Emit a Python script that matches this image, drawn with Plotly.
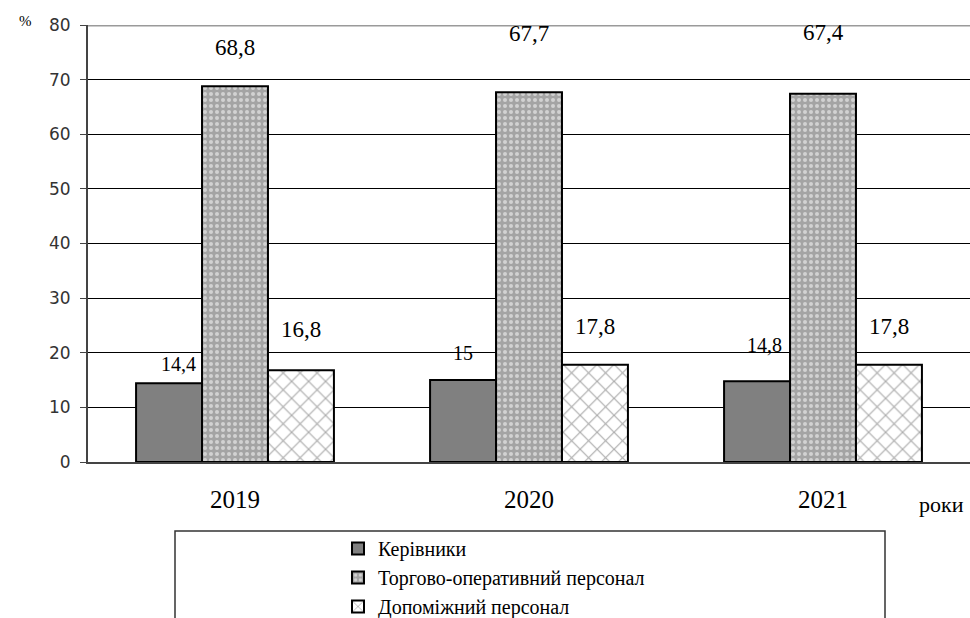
import plotly.graph_objects as go

# Staff structure by category, %
years = ["2019", "2020", "2021"]
kerivnyky = [14.4, 15.0, 14.8]
torhovo = [68.8, 67.7, 67.4]
dopomizhnyi = [16.8, 17.8, 17.8]
series_names = ["Керівники", "Торгово-оперативний персонал", "Допоміжний персонал"]
y_ticks = [0, 10, 20, 30, 40, 50, 60, 70, 80]

SERIF = "Liberation Serif"
SANS = "DejaVu Sans"

fig = go.Figure()

fig.add_trace(go.Bar(
    x=years, y=kerivnyky, name=series_names[0],
    marker=dict(color="#808080", line=dict(color="black", width=2)),
))
fig.add_trace(go.Bar(
    x=years, y=torhovo, name=series_names[1],
    marker=dict(
        color="#a4a4a4",
        line=dict(color="black", width=2),
        pattern=dict(shape=".", fgcolor="white", bgcolor="#a4a4a4",
                     size=6, solidity=0.35),
    ),
))
fig.add_trace(go.Bar(
    x=years, y=dopomizhnyi, name=series_names[2],
    marker=dict(
        color="white",
        line=dict(color="black", width=2),
        pattern=dict(shape="x", fgcolor="#555555", bgcolor="white",
                     size=12, solidity=0.18),
    ),
))

# value labels: (series values, bar offset px, extra x shift, label heights above bar, font size)
label_specs = [
    (kerivnyky, -66, [9, 0, 7], [19, 27, 36], 20),
    (torhovo, 0, [0, 0, 0], [39, 59, 61], 23),
    (dopomizhnyi, 66, [0, 0, 0], [41, 38, 38], 23),
]
annotations = []
for values, offset, dx, dy, size in label_specs:
    for i, (v, sx, sy) in enumerate(zip(values, dx, dy)):
        annotations.append(dict(
            x=i, y=v, xref="x", yref="y",
            text=f"{v:g}".replace(".", ","),
            showarrow=False, xshift=offset + sx, yshift=sy,
            yanchor="middle", font=dict(family=SERIF, size=size, color="black"),
        ))

annotations.append(dict(
    x=-0.08, y=1.0, xref="paper", yref="paper", text="%", showarrow=False,
    xanchor="left", yanchor="bottom", yshift=-6,
    font=dict(family=SERIF, size=15, color="black"),
))
annotations.append(dict(
    x=1.0, y=0, xref="paper", yref="paper", text="роки", showarrow=False,
    xanchor="right", yanchor="middle", yshift=-42, xshift=-4,
    font=dict(family=SERIF, size=22, color="black"),
))

shapes = [
    # top boundary at 80
    dict(type="line", xref="paper", yref="y", x0=0, x1=1, y0=80, y1=80,
         line=dict(color="#9a9a9a", width=3)),
    # legend frame, runs past the bottom edge
    dict(type="rect", xref="paper", yref="paper",
         x0=(175 - 88) / 882, x1=(885 - 88) / 882,
         y0=(462 - 531) / 437, y1=-0.6,
         line=dict(color="#333333", width=1.5), fillcolor="rgba(0,0,0,0)"),
]

fig.update_layout(
    width=970, height=618,
    margin=dict(l=88, r=0, t=25, b=156, autoexpand=False),
    paper_bgcolor="white", plot_bgcolor="white",
    font=dict(family=SERIF, color="black"),
    barmode="group", bargap=0.327, bargroupgap=0,
    showlegend=True,
    legend=dict(
        x=(338 - 88) / 882, y=(462 - 529) / 437,
        xanchor="left", yanchor="top",
        font=dict(family="Liberation Serif, Times New Roman, serif", size=20, color="black"),
        bgcolor="rgba(0,0,0,0)", borderwidth=0,
    ),
    annotations=annotations,
    shapes=shapes,
    xaxis=dict(
        type="category", categoryorder="array", categoryarray=years,
        range=[-0.5, 2.5], autorange=False, automargin=False,
        showgrid=False, showline=True, linecolor="#444444", linewidth=2,
        ticks="outside", ticklen=14, tickcolor="rgba(0,0,0,0)",
        tickfont=dict(family=SERIF, size=25, color="black"),
    ),
    yaxis=dict(
        range=[0, 80], autorange=False, tickvals=y_ticks, showgrid=True,
        gridcolor="black", gridwidth=1.2, automargin=False,
        showline=True, linecolor="#444444", linewidth=2,
        ticks="outside", ticklen=6, tickcolor="#444444",
        tickfont=dict(family=SANS, size=17, color="#333333"),
        ticklabelstandoff=6,
        zeroline=False,
    ),
)

fig.write_html("out.html")
